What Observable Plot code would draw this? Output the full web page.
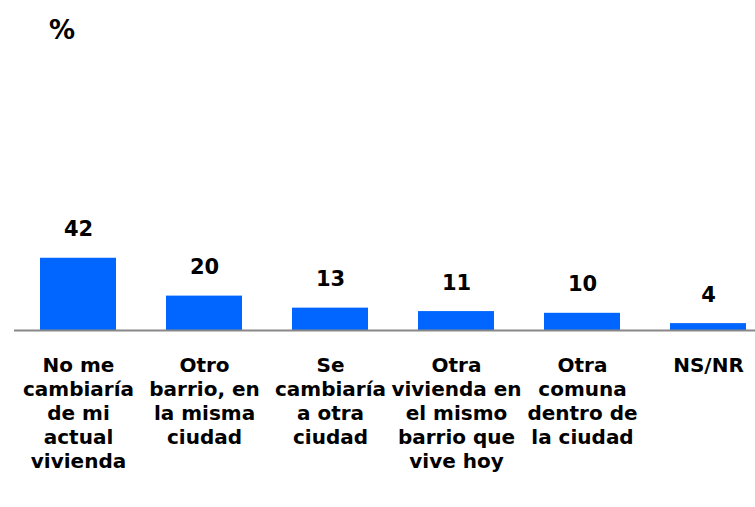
<!DOCTYPE html>
<html><head><meta charset="utf-8">
<script src="https://cdn.jsdelivr.net/npm/d3@7"></script>
<script src="https://cdn.jsdelivr.net/npm/@observablehq/plot@0.6"></script>
<style>
body{margin:0;background:#fff}
#c{position:relative;width:755px;height:507px}
#pct{position:absolute;left:49px;top:15px;font:bold 26px "DejaVu Sans";color:#000}
</style>
</head><body><div id="c"><div id="pct">%</div></div>
<script>
const categories = [
  "No me cambiaría de mi actual vivienda",
  "Otro barrio, en la misma ciudad",
  "Se cambiaría a otra ciudad",
  "Otra vivienda en el mismo barrio que vive hoy",
  "Otra comuna dentro de la ciudad",
  "NS/NR"
];
const values = [42, 20, 13, 11, 10, 4];
const tickLabels = [
  "No me\ncambiaría\nde mi\nactual\nvivienda",
  "Otro\nbarrio, en\nla misma\nciudad",
  "Se\ncambiaría\na otra\nciudad",
  "Otra\nvivienda en\nel mismo\nbarrio que\nvive hoy",
  "Otra\ncomuna\ndentro de\nla ciudad",
  "NS/NR"
];
const data = categories.map((c, i) => ({category: c, value: values[i]}));
const labelOf = new Map(categories.map((c, i) => [c, tickLabels[i]]));
const chart = Plot.plot({
  width: 755, height: 507,
  marginTop: 0, marginLeft: 14, marginRight: 0, marginBottom: 177,
  x: {domain: categories, range: [14, 772], paddingInner: 0.4, paddingOuter: 0.2, align: 0.5, axis: null},
  y: {domain: [0, 100], range: [330, 158], axis: null},
  style: {fontFamily: "DejaVu Sans", background: "white", color: "black"},
  marks: [
    Plot.barY(data, {x: "category", y: "value", fill: "#0066FF"}),
    Plot.ruleY([0], {stroke: "#888888", strokeWidth: 2}),
    Plot.text(data, {x: "category", y: "value", text: d => String(d.value), lineAnchor: "bottom", dy: -22, fontSize: 21, fontWeight: "bold", fill: "black"}),
    Plot.axisX({tickSize: 0, tickPadding: 24, tickFormat: d => labelOf.get(d), fontSize: 20, fontWeight: "bold", lineHeight: 1.2, fill: "black", label: null})
  ]
});
chart.style.position = "absolute";
chart.style.left = "0";
chart.style.top = "0";
document.getElementById("c").prepend(chart);
</script>
</body></html>
